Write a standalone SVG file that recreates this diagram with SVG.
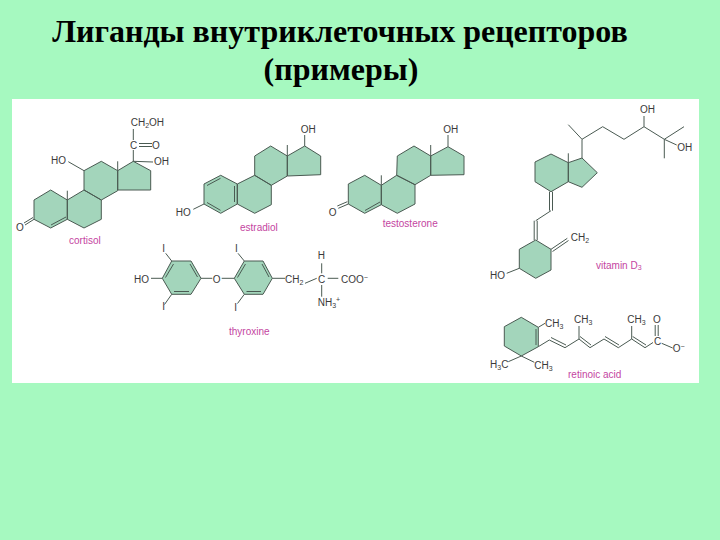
<svg xmlns="http://www.w3.org/2000/svg" width="720" height="540" viewBox="0 0 720 540">
<style>
.ring{fill:#a3d5bb;stroke:#4a5a52;stroke-width:1;stroke-linejoin:round}
.bond{fill:none;stroke:#4a5a52;stroke-width:1}
.t{font-family:"Liberation Sans",sans-serif;font-size:10px;fill:#3a3a3a}
.s{font-size:7px}
.n{font-family:"Liberation Sans",sans-serif;font-size:10px;fill:#c4459f}
.title{font-family:"Liberation Serif",serif;font-size:32px;font-weight:bold;fill:#000;text-anchor:middle}
</style>
<rect width="720" height="540" fill="#a6f9c0"/>
<rect x="12" y="99" width="687" height="284" fill="#fff"/>
<text class="title" x="340" y="42">Лиганды внутриклеточных рецепторов</text>
<text class="title" x="341" y="80">(примеры)</text>
<g id="cortisol">
<path class="ring" d="M34 200L50.7 190L67.3 200V219.3L50.7 228L34 219.3ZM67.3 200L84 190L101.3 200V219.3L84 228L67.3 219.3ZM84 190V170.7L101.3 161.3L117.7 170.7V190.7L101.3 200ZM117.7 170.7L133.3 161.3L150.7 170.7V190H117.7Z"/>
<path class="bond" d="M67.3 200V190.7M117.7 170.7V161.3M68.3 161.7L84 170.7M133.3 161.3L153 162M133.3 161.300V150M133.300 140V129M139 143.500H152M139 146.500H152M25 225L34 219.300M24 223L33 217.500M51 225L66 217"/>
<text class="t" x="130.700" y="126">CH<tspan class="s" dy="2">2</tspan><tspan dy="-2">OH</tspan></text>
<text class="t" x="130" y="149">C</text><text class="t" x="152" y="149">O</text>
<text class="t" x="51" y="164">HO</text><text class="t" x="154" y="165">OH</text>
<text class="t" x="16" y="231">O</text>
<text class="n" x="69" y="244">cortisol</text>
</g>
<g id="estradiol">
<path class="ring" d="M204 184L220.700 175.300L237.300 184V204L220.700 213.300L204 204ZM237.300 184L254.700 175.300L271.300 185.300V204.700L254.700 213.300L237.300 204ZM254.700 175.300V156L270.700 146L287.300 156V176L271.300 185.300ZM287.300 156L304.700 146L320.700 156V174.700L287.300 176Z"/>
<path class="bond" d="M207 185.500L220.500 178.300M207 202.500L220.500 210.300M234.500 186V202M287.300 156V145M304.700 146V135M193.300 209.300L204 204"/>
<text class="t" x="300.700" y="133.300">OH</text>
<text class="t" x="175.700" y="216">HO</text>
<text class="n" x="240" y="230.700">estradiol</text>
</g>
<g id="testosterone">
<path class="ring" d="M348.300 184L364.700 175.300L381.300 185.300V204.700L364.700 213.300L348.300 204ZM381.300 185.300L396.700 175.300L415 184.700V204L397.300 213.300L381.300 204.700ZM396.700 175.300L397.300 156L414 146L430.700 156V175.300L415 184.700ZM430.700 156L448 146.700L464 156V174.700L430.700 175.300Z"/>
<path class="bond" d="M381.300 185.300V175.300M430.700 156V145M448 146.700V135M338.300 208.300L348.300 204M337.300 206L347.300 201.700M365 210.500L380 202"/>
<text class="t" x="443.300" y="133.300">OH</text>
<text class="t" x="328.700" y="216">O</text>
<text class="n" x="382.700" y="227.300">testosterone</text>
</g>
<g id="vitamin-d3">
<path class="ring" d="M535 162L551 154L568.300 162.700V181.700L551 191.700L535 181.700ZM568.300 162.700L582 158L597.300 172.700L582 187.300L568.300 181.700ZM535.700 240L551 249.300V270L535.700 278.300L519.300 268.300V249.300Z"/>
<path class="bond" d="M568.300 162.700V153.300M582 158V139.300L568.300 124.700M582 139.300L602.700 126.700L624 139.300L644 126.700L664.300 139.300L684 126.700M664.300 139.300V158.300M664.300 139.300L676.700 145M644 126.700V116M549.500 191.700V210.700M552.500 191.700V210.700M551 210.700L535.700 220.700M534.200 220.700V240M537.200 220.700V240M551 249.300L567.300 238.300M552.500 251.500L568.500 240.500M506.700 273.300L519.300 268.300"/>
<text class="t" x="640" y="113.300">OH</text>
<text class="t" x="677.300" y="150.700">OH</text>
<text class="t" x="570.700" y="241.300">CH<tspan class="s" dy="2">2</tspan></text>
<text class="t" x="490" y="279.300">HO</text>
<text class="n" x="596" y="268.700">vitamin D<tspan font-size="7" dy="1.500">3</tspan></text>
</g>
<g id="thyroxine">
<path class="ring" d="M162.300 278.300L171.700 261H191L201 278.300L191 294.300H171.700ZM234.300 278.300L244.300 261H263L272.300 278.300L263 294.300H244.300Z"/>
<path class="bond" d="M165.500 277.500L173.500 264M174 291.500H189M190 264L197.500 277M237.500 277.500L245.500 264M246.500 291.500H261M262 264L269 277M151 278.300H162.300M201 278.300H212.300M221.700 278.300H234.300M165.700 253.300L171.700 261M164.500 304.500L171.700 294.300M238 253.300L244.300 261M237.500 303.500L244.300 294.300M272.300 278.300H285M305 283.300L316.700 278.300M327.700 278.300H338.300M321.700 263.300V273.300M321.700 285V296.700"/>
<text class="t" x="134" y="282.700">HO</text>
<text class="t" x="212.700" y="282.700">O</text>
<text class="t" x="162.300" y="252.300">I</text><text class="t" x="162.300" y="310.300">I</text>
<text class="t" x="235" y="252.300">I</text><text class="t" x="234.300" y="311">I</text>
<text class="t" x="285" y="282.700">CH<tspan class="s" dy="2">2</tspan></text>
<text class="t" x="318" y="282.700">C</text>
<text class="t" x="341" y="282.700">COO<tspan class="s" dy="-3">−</tspan></text>
<text class="t" x="317.700" y="259">H</text>
<text class="t" x="317.700" y="305.700">NH<tspan class="s" dy="2">3</tspan><tspan class="s" dy="-6">+</tspan></text>
<text class="n" x="229" y="335">thyroxine</text>
</g>
<g id="retinoic-acid">
<path class="ring" d="M504.300 326.700L521.300 317.300L538.300 327.300V346.700L521.300 356L504.300 346Z"/>
<path class="bond" d="M536 329V345M538.300 327.300L545 323.300M521.300 356L508.300 361.700M521.300 356L534.300 362.300M538.300 346.700L549.300 340L565 347.700L579 339L590 347.700L604 339L618.300 347.700L631.700 339L645 347.700L653 342.500M551 337.500L566 345M580 336.500L591 345M605 336.500L619 345M632.700 336.500L646 345M579 339V326M631.700 339V326M655.200 325V336M658.200 325V336M661.700 343.300L672.700 348"/>
<text class="t" x="545" y="327.300">CH<tspan class="s" dy="2">3</tspan></text>
<text class="t" x="574" y="323.300">CH<tspan class="s" dy="2">3</tspan></text>
<text class="t" x="627.300" y="323.300">CH<tspan class="s" dy="2">3</tspan></text>
<text class="t" x="534.300" y="369">CH<tspan class="s" dy="2">3</tspan></text>
<text class="t" x="490" y="368.300">H<tspan class="s" dy="2">3</tspan><tspan dy="-2">C</tspan></text>
<text class="t" x="654" y="345">C</text>
<text class="t" x="653" y="322.700">O</text>
<text class="t" x="672.700" y="351.700">O<tspan class="s" dy="-3">−</tspan></text>
<text class="n" x="568" y="378.300">retinoic acid</text>
</g>
</svg>
